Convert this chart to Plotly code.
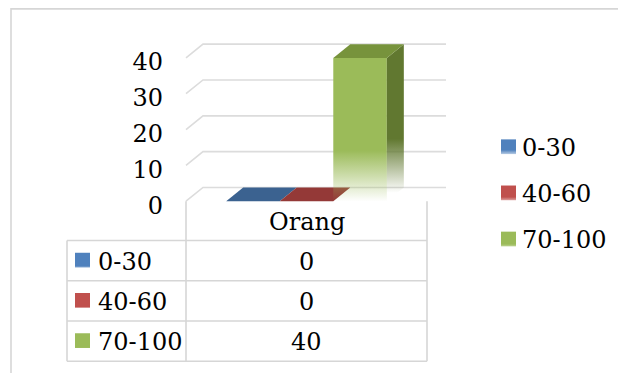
import plotly.graph_objects as go

# ---- data -------------------------------------------------------------
categories = ["Orang"]
series_names = ["0-30", "40-60", "70-100"]
series_values = [0, 0, 40]
y_ticks = [0, 10, 20, 30, 40]

# ---- styling ----------------------------------------------------------
front_colors = ["#4F81BD", "#C0504D", "#9BBB59"]
top_colors = ["#3B6290", "#943937", "#77933C"]
side_colors = ["#375A85", "#8A3634", "#617830"]
GRID = "#DCDCDC"
BORDER = "#D6D6D6"
FONT = "DejaVu Serif"
FS = 24

W, H = 618, 380
# front plane of the 3-D plot, in pixels
X0_PX, X1_PX = 186, 427          # category band
Y0_PX, YTOP_PX = 205, 59         # value 0 and value 40
DEPTH_X, DEPTH_Y = 17, 14        # depth offset of the back wall

px_per_cat = X1_PX - X0_PX
px_per_val = (Y0_PX - YTOP_PX) / 40.0
dxu = DEPTH_X / px_per_cat
dyu = DEPTH_Y / px_per_val
bar_w = 1 / 4.5                  # three bars + 150 % gap


def x_px(u):
    return X0_PX + (u + 0.5) * px_per_cat


def y_px(v):
    return Y0_PX - v * px_per_val


xr = [-0.5 - 22 / px_per_cat, 0.5 + 30 / px_per_cat]
yr = [-3, 48]
x_domain = [x_px(xr[0]) / W, x_px(xr[1]) / W]
y_domain = [1 - y_px(yr[0]) / H, 1 - y_px(yr[1]) / H]


def rgba(hex_color, a):
    h = hex_color.lstrip("#")
    r, g, b = int(h[0:2], 16), int(h[2:4], 16), int(h[4:6], 16)
    return f"rgba({r},{g},{b},{a})"


fig = go.Figure()

# gridlines on the floor edge + back wall
for t in y_ticks:
    fig.add_trace(go.Scatter(
        x=[-0.5, -0.5 + dxu, 0.5 + dxu + 2 / px_per_cat],
        y=[t, t + dyu, t + dyu],
        mode="lines", line=dict(color=GRID, width=1.6),
        hoverinfo="skip", showlegend=False, xaxis="x", yaxis="y"))

# 3-D columns
n = len(series_names)
for i, (name, v) in enumerate(zip(series_names, series_values)):
    c = (i - (n - 1) / 2) * bar_w
    xl, xr_ = c - bar_w / 2, c + bar_w / 2
    if v > 0:
        # front face
        fig.add_trace(go.Scatter(
            x=[xl, xr_, xr_, xl, xl], y=[0, 0, v, v, 0],
            mode="lines", line=dict(width=0), fill="toself",
            fillgradient=dict(type="vertical",
                              colorscale=[[0, rgba(front_colors[i], 0)],
                                          [1, rgba(front_colors[i], 1)]],
                              start=v * 0.02, stop=v * 0.37),
            hoverinfo="skip", showlegend=False, xaxis="x", yaxis="y"))
        # side face
        fig.add_trace(go.Scatter(
            x=[xr_, xr_ + dxu, xr_ + dxu, xr_, xr_],
            y=[0, dyu, v + dyu, v, 0],
            mode="lines", line=dict(width=0), fill="toself",
            fillgradient=dict(type="vertical",
                              colorscale=[[0, rgba(side_colors[i], 0)],
                                          [1, rgba(side_colors[i], 1)]],
                              start=v * 0.08, stop=v * 0.45),
            hoverinfo="skip", showlegend=False, xaxis="x", yaxis="y"))
    # top face
    fig.add_trace(go.Scatter(
        x=[xl, xl + dxu, xr_ + dxu, xr_, xl],
        y=[v, v + dyu, v + dyu, v, v],
        mode="lines", line=dict(width=0), fill="toself",
        fillcolor=top_colors[i],
        hoverinfo="skip", showlegend=False, xaxis="x", yaxis="y"))

# ---- overlay in pixel units for table, legend and frame -------------
shapes = []
annotations = []


def hline(x0, x1, y, color=BORDER, w=1.6):
    shapes.append(dict(type="line", xref="x2", yref="y2", x0=x0, x1=x1,
                       y0=y, y1=y, line=dict(color=color, width=w)))


def vline(x, y0, y1, color=BORDER, w=1.6):
    shapes.append(dict(type="line", xref="x2", yref="y2", x0=x, x1=x,
                       y0=y0, y1=y1, line=dict(color=color, width=w)))


def text(x, y, s, anchor="left"):
    annotations.append(dict(xref="x2", yref="y2", x=x, y=y, text=s,
                            showarrow=False, xanchor=anchor, yanchor="middle",
                            font=dict(family=FONT, size=FS, color="black")))


def key(x, y, color):
    # small swatch fading to white at the bottom
    fig.add_trace(go.Scatter(
        x=[x, x + 15, x + 15, x, x], y=[y, y, y + 15, y + 15, y],
        mode="lines", line=dict(width=0), fill="toself",
        fillgradient=dict(type="vertical",
                          colorscale=[[0, rgba(color, 1)], [1, rgba(color, 0)]],
                          start=y + 8, stop=y + 15),
        hoverinfo="skip", showlegend=False, xaxis="x2", yaxis="y2"))


# outer chart frame
shapes.append(dict(type="rect", xref="x2", yref="y2", x0=11, x1=640,
                   y0=9, y1=400, line=dict(color=BORDER, width=1.6)))

# data table
T_L, T_M, T_R = 67, X0_PX, X1_PX
rows = [205, 245, 286, 327, 368]
vline(T_M, rows[0], rows[-1])
vline(T_R, rows[0], rows[-1])
vline(T_L, rows[1], rows[-1])
for ry in rows[1:]:
    hline(T_L, T_R, ry)
text((T_M + T_R) / 2, (rows[0] + rows[1]) / 2 + 1, categories[0], "center")
for i, (name, v) in enumerate(zip(series_names, series_values)):
    cy = (rows[i + 1] + rows[i + 2]) / 2
    key(75, cy - 8, front_colors[i])
    text(96, cy + 1, name)
    text((T_M + T_R) / 2, cy + 1, str(v), "center")

# legend
for i, name in enumerate(series_names):
    ly = 150 + i * 47
    key(501, ly - 8, front_colors[i])
    text(520, ly + 1, name)

fig.update_layout(
    width=W, height=H,
    margin=dict(l=0, r=0, t=0, b=0),
    paper_bgcolor="white", plot_bgcolor="rgba(0,0,0,0)",
    showlegend=False,
    xaxis=dict(domain=x_domain, range=xr, visible=False, fixedrange=True),
    yaxis=dict(domain=y_domain, range=yr, tickvals=y_ticks,
               ticktext=[str(t) for t in y_ticks], showgrid=False,
               zeroline=False, showline=False, ticks="",
               ticklabelshift=4,
               tickfont=dict(family=FONT, size=FS, color="black"),
               fixedrange=True),
    xaxis2=dict(domain=[0, 1], range=[0, W], visible=False, fixedrange=True),
    yaxis2=dict(domain=[0, 1], range=[H, 0], visible=False, fixedrange=True,
                anchor="x2"),
    shapes=shapes, annotations=annotations,
)

fig.write_html("out.html")
